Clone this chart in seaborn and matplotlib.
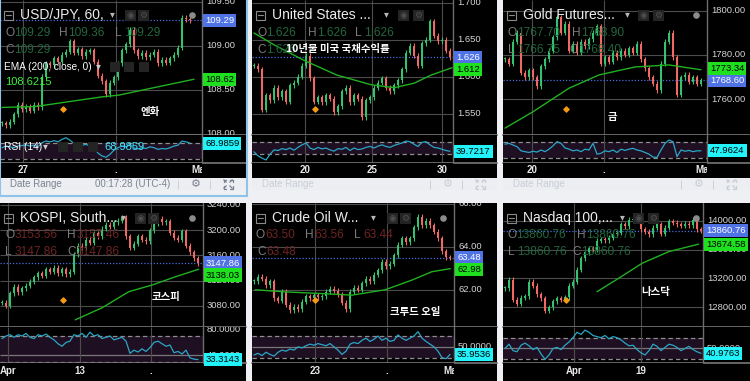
import numpy as np
import matplotlib
matplotlib.use("Agg")
import matplotlib.pyplot as plt
from matplotlib.patches import Rectangle
import seaborn as sns


# ---------------- values ----------------
titles = ["USD/JPY, 60,", "United States ...", "Gold Futures...",
          "KOSPI, South...", "Crude Oil W...", "Nasdaq 100,..."]
kr_labels = ["엔화", "10년물 미국 국채수익률", "금", "코스피", "크루드 오일", "나스닥"]

# USD/JPY, 60 min
usdjpy_close = [108.12, 108.10, 108.14, 108.22, 108.33, 108.28, 108.31, 108.26, 108.33, 108.30,
                108.65, 108.80, 108.78, 108.86, 108.82, 108.90, 108.93, 109.05, 108.92, 108.96,
                108.88, 108.93, 108.95, 108.82, 108.66, 108.60, 108.45, 108.58, 108.64, 108.80,
                108.95, 109.02, 109.18, 108.95, 108.88, 108.92, 108.87, 108.90, 108.93, 108.80,
                108.84, 108.81, 108.86, 108.90, 108.98, 109.32, 109.30, 109.29]
usdjpy_ema_x = [0, 8.25, 25, 29.25, 37.5, 48]
usdjpy_ema = [108.30, 108.31, 108.42, 108.44, 108.52, 108.62]
usdjpy_rsi = [58, 62, 60, 58, 62, 63, 65, 62, 64, 60, 70, 74, 72, 75, 72, 78, 82, 76, 68, 66,
              64, 66, 62, 58, 45, 38, 35, 42, 52, 58, 62, 60, 66, 57, 55, 58, 56, 60, 58, 54,
              56, 55, 58, 62, 64, 74, 72, 68.9859]
usdjpy_ticks = [108.0, 108.5, 109.0, 109.5]
usdjpy_date_pos = [5.25, 28.5, 49]
usdjpy_date_lbl = ["27", ".", "Ma"]
usdjpy_ohlc = [("O", "109.29"), ("H", "109.36"), ("L", "109.29"), ("C", "109.29")]

# US 10Y yield
ust10_close = [1.615, 1.610, 1.555, 1.575, 1.568, 1.585, 1.572, 1.580, 1.566, 1.588,
               1.592, 1.600, 1.615, 1.628, 1.598, 1.566, 1.572, 1.565, 1.575, 1.570,
               1.552, 1.560, 1.580, 1.585, 1.565, 1.575, 1.570, 1.545, 1.568, 1.572,
               1.585, 1.592, 1.598, 1.585, 1.580, 1.588, 1.595, 1.610, 1.632, 1.642,
               1.628, 1.615, 1.645, 1.650, 1.675, 1.655, 1.648, 1.650, 1.635, 1.626]
ust10_ema_x = [0, 5, 12.5, 20.75, 29.25, 35, 40, 44.25, 49.5]
ust10_ema = [1.659, 1.643, 1.622, 1.602, 1.589, 1.585, 1.591, 1.602, 1.612]
ust10_rsi = [38, 25, 18, 12, 30, 44, 42, 48, 45, 50, 43, 52, 60, 66, 50, 45, 52, 47, 50, 44,
             40, 48, 46, 52, 42, 50, 45, 47, 52, 55, 50, 56, 60, 55, 52, 58, 62, 66, 72, 70,
             62, 55, 68, 70, 60, 52, 50, 46, 42, 39.7217]
ust10_ticks = [1.55, 1.60, 1.65, 1.70]
ust10_date_pos = [12.75, 29.5, 47]
ust10_date_lbl = ["20", "25", "30"]
ust10_ohlc = [("O", "1.626"), ("H", "1.626"), ("L", "1.626"), ("C", "1.626")]

# Gold futures
gold_close = [1778, 1776, 1786, 1790, 1772, 1770, 1773, 1770, 1766, 1775,
              1778, 1782, 1788, 1797, 1790, 1794, 1782, 1785, 1781, 1786,
              1784, 1787, 1790, 1793, 1776, 1779, 1777, 1781, 1779, 1782,
              1780, 1783, 1781, 1785, 1778, 1774, 1770, 1767, 1764, 1776,
              1786, 1790, 1779, 1762, 1770, 1771, 1768, 1770, 1767, 1768.60]
gold_ema_x = [0, 7, 16, 23.5, 32.5, 41, 49]
gold_ema = [1747, 1754.4, 1765, 1771, 1774.6, 1775.5, 1773.34]
gold_rsi = [64, 66, 62, 58, 48, 46, 44, 47, 45, 50, 46, 52, 60, 70, 66, 55, 52, 48, 50, 46,
            52, 50, 66, 40, 42, 48, 46, 50, 44, 52, 49, 52, 54, 50, 48, 44, 40, 33, 32, 50,
            66, 74, 70, 34, 50, 47, 49, 46, 48, 47.9624]
gold_ticks = [1760, 1780, 1800]
gold_date_pos = [6.75, 24.75, 49.25]
gold_date_lbl = ["20", ".", "Ma"]
gold_ohlc = [("O", "1767.70"), ("H", "1768.90"), ("L", "1766.75"), ("C", "1768.40")]

# KOSPI
kospi_close = [3085, 3080, 3100, 3110, 3102, 3108, 3112, 3118, 3125, 3132,
               3128, 3138, 3134, 3140, 3132, 3138, 3130, 3134, 3162, 3175,
               3172, 3185, 3180, 3195, 3190, 3202, 3208, 3205, 3212, 3215,
               3220, 3190, 3172, 3178, 3190, 3185, 3182, 3200, 3210, 3218,
               3212, 3214, 3196, 3188, 3185, 3198, 3175, 3165, 3155, 3147.86]
kospi_ema_x = [18.3, 25, 31.7, 37.5, 43.3, 49.2]
kospi_ema = [3058, 3077, 3102.5, 3113, 3126, 3138.03]
kospi_rsi = [66, 70, 72, 68, 72, 70, 74, 68, 66, 72, 70, 73, 68, 64, 58, 54, 60, 62, 72, 70,
             74, 68, 76, 70, 72, 66, 68, 70, 64, 66, 68, 62, 43, 48, 45, 50, 46, 52, 60, 62,
             58, 54, 56, 44, 46, 42, 48, 36, 34, 33.3143]
kospi_ticks = [3080, 3120, 3160, 3200, 3240]
kospi_date_pos = [1.5, 19.5, 37.25]
kospi_date_lbl = ["Apr", "13", "."]
kospi_ohlc = [("O", "3153.56"), ("H", "3157.46"), ("L", "3147.86"), ("C", "3147.86")]

# Crude oil WTI
crude_close = [62.4, 62.6, 62.5, 62.2, 62.4, 61.6, 61.5, 61.9, 61.3, 61.05,
               61.2, 61.1, 61.45, 61.7, 61.6, 61.75, 61.65, 61.7, 61.9, 62.05,
               61.95, 61.8, 61.4, 61.1, 61.9, 62.1, 62.0, 62.3, 62.5, 62.4,
               62.7, 62.9, 63.3, 63.1, 63.2, 63.6, 64.1, 64.4, 64.2, 64.4,
               64.9, 65.4, 65.0, 65.2, 65.0, 64.7, 64.4, 63.8, 63.5, 63.48]
crude_ema_x = [0.3, 7.8, 16.2, 24.5, 32.8, 39.5, 44.5, 49.1]
crude_ema = [62.0, 61.9, 61.83, 61.75, 62.0, 62.45, 62.84, 62.98]
crude_rsi = [35, 38, 34, 40, 36, 33, 40, 44, 42, 46, 44, 50, 48, 52, 55, 53, 56, 54, 52, 56,
             50, 44, 36, 42, 55, 58, 56, 62, 66, 60, 64, 70, 62, 66, 60, 62, 72, 66, 62, 66,
             70, 78, 66, 60, 55, 50, 42, 30, 28, 35.9536]
crude_ticks = [62, 64, 66]
crude_date_pos = [15.25, 33.25, 49]
crude_date_lbl = ["23", ".", "Ma"]
crude_ohlc = [("O", "63.50"), ("H", "63.56"), ("L", "63.44"), ("C", "63.48")]

# Nasdaq 100
ndx_close = [13060, 13180, 12900, 12850, 12930, 12950, 13150, 13100, 12980, 12920,
             12750, 12800, 12880, 12920, 12900, 12940, 13100, 13150, 13320, 13480,
             13560, 13620, 13600, 13720, 13740, 13730, 13760, 13810, 13830, 13950,
             13920, 14010, 14030, 14000, 13880, 13850, 13810, 13900, 13950, 13820,
             13900, 13990, 13970, 13950, 13930, 13960, 13940, 14010, 13880, 13860.76]
ndx_ema_x = [23, 28.4, 34.25, 40.9, 48.4]
ndx_ema = [13014, 13200, 13408, 13570, 13674.58]
ndx_rsi = [50, 58, 46, 44, 56, 60, 55, 48, 52, 40, 30, 38, 50, 52, 48, 56, 62, 70, 80, 76,
           84, 80, 74, 72, 70, 74, 68, 72, 70, 66, 60, 55, 56, 48, 42, 38, 46, 58, 54, 46,
           52, 58, 56, 52, 46, 50, 54, 48, 44, 40.9763]
ndx_ticks = [12800, 13200, 13600, 14000]
ndx_date_pos = [17.25, 34]
ndx_date_lbl = ["Apr", "19"]
ndx_ohlc = [("O", "13860.76"), ("H", "13860.76"), ("L", "13860.76"), ("C", "13860.76")]


# ---------------- look ----------------
FW, FH = 750, 381
UP = "#35c270"
DOWN = "#ee6a62"
EMA_C = "#20b020"
RSI_C = "#2ba6c6"
GRID = "#4c4c4c"
AXIS_C = "#6e6e6e"
LBL_C = "#d4d4d4"
BAND = "#1f0f22"
VAL_UP = "#22663d"
VAL_DN = "#6e2323"

ROWS = {
    "top": dict(main=(0, 135), rsi=(135, 163), date=(163, 178), bar=(178, 190),
                r1=33, r2=50, title=15, orange=109),
    "bottom": dict(main=(203, 327), rsi=(327, 363), date=(363, 381), bar=None,
                   r1=235, r2=252, title=218, orange=300),
}

layout = [
    dict(row="top", box=(0, 202, 246), ylim=(107.987, 109.52), rsi_lim=(21.1, 88.6),
         drop=112, icons=(125, 138), ohlc_pos=[(5, 1), (59, 1), (115, 1), (5, 2)],
         kr_xy=(150, 112), dot=True),
    dict(row="top", box=(252, 453, 497), ylim=(1.521, 1.7036), rsi_lim=(2.4, 91.3),
         drop=134, icons=(146, 161), ohlc_pos=[(5, 1), (56, 1), (103, 1), (5, 2)],
         kr_xy=(338, 49), dot=False),
    dict(row="top", box=(503, 707, 750), ylim=(1743.9, 1804.8), rsi_lim=(18.7, 86.1),
         drop=124, icons=(135, 150), ohlc_pos=[(5, 1), (69, 1), (5, 2), (66, 2)],
         kr_xy=(612, 117), dot=True),
    dict(row="bottom", box=(0, 203, 246), ylim=(3046.7, 3242.7), rsi_lim=(28.0, 84.0),
         drop=123, icons=(135, 148), ohlc_pos=[(5, 1), (67, 1), (5, 2), (67, 2)],
         kr_xy=(166, 297), dot=True),
    dict(row="bottom", box=(252, 454, 497), ylim=(60.27, 66.03), rsi_lim=(20.2, 86.6),
         drop=121, icons=(135, 148), ohlc_pos=[(4, 1), (53, 1), (102, 1), (5, 2)],
         kr_xy=(415, 312), dot=True),
    dict(row="bottom", box=(503, 703, 750), ylim=(12524, 14246), rsi_lim=(23.1, 89.8),
         drop=119, icons=(130, 145), ohlc_pos=[(4, 1), (74, 1), (5, 2), (69, 2)],
         kr_xy=(656, 292), dot=True),
]

panels = [
    dict(close=usdjpy_close, ema_x=usdjpy_ema_x, ema=usdjpy_ema, rsi=usdjpy_rsi,
         ticks=usdjpy_ticks, fmt="{:.2f}", dates=(usdjpy_date_pos, usdjpy_date_lbl),
         ohlc=usdjpy_ohlc, val_c=VAL_UP, rsi_grid=[], rsi_lbl=[]),
    dict(close=ust10_close, ema_x=ust10_ema_x, ema=ust10_ema, rsi=ust10_rsi,
         ticks=ust10_ticks, fmt="{:.3f}", dates=(ust10_date_pos, ust10_date_lbl),
         ohlc=ust10_ohlc, val_c=VAL_UP, rsi_grid=[], rsi_lbl=[]),
    dict(close=gold_close, ema_x=gold_ema_x, ema=gold_ema, rsi=gold_rsi,
         ticks=gold_ticks, fmt="{:.2f}", dates=(gold_date_pos, gold_date_lbl),
         ohlc=gold_ohlc, val_c=VAL_UP, rsi_grid=[], rsi_lbl=[]),
    dict(close=kospi_close, ema_x=kospi_ema_x, ema=kospi_ema, rsi=kospi_rsi,
         ticks=kospi_ticks, fmt="{:.2f}", dates=(kospi_date_pos, kospi_date_lbl),
         ohlc=kospi_ohlc, val_c=VAL_DN, rsi_grid=[40], rsi_lbl=[80, 40]),
    dict(close=crude_close, ema_x=crude_ema_x, ema=crude_ema, rsi=crude_rsi,
         ticks=crude_ticks, fmt="{:.2f}", dates=(crude_date_pos, crude_date_lbl),
         ohlc=crude_ohlc, val_c=VAL_DN, rsi_grid=[50], rsi_lbl=[50]),
    dict(close=ndx_close, ema_x=ndx_ema_x, ema=ndx_ema, rsi=ndx_rsi,
         ticks=ndx_ticks, fmt="{:.2f}", dates=(ndx_date_pos, ndx_date_lbl),
         ohlc=ndx_ohlc, val_c=VAL_UP, rsi_grid=[50], rsi_lbl=[50]),
]


def px_axes(fig, x0, y0, x1, y1, **kw):
    return fig.add_axes([x0 / FW, 1 - y1 / FH, (x1 - x0) / FW, (y1 - y0) / FH], **kw)


def blank(ax, fc="black"):
    ax.set_facecolor(fc)
    ax.set_xticks([])
    ax.set_yticks([])
    ax.set(xlabel=None, ylabel=None)
    ax.grid(False)
    for s in ax.spines.values():
        s.set_visible(False)


def to_px(v, lim, span):
    return span[0] + (lim[1] - v) / (lim[1] - lim[0]) * (span[1] - span[0])


def value_box(ov, x, y, s, fc, tc):
    ov.text(x, y, s, ha="left", va="center", fontsize=6.8, color=tc, zorder=20,
            bbox=dict(boxstyle="square,pad=0.22", fc=fc, ec="none"))


def expand_icon(ov, cx, cy, c):
    # the "full screen" arrows of the toolbar, drawn as four short diagonals
    for sx in (-1, 1):
        for sy in (-1, 1):
            ov.plot([cx + sx * 1.5, cx + sx * 4.5], [cy + sy * 1.5, cy + sy * 4.5],
                    color=c, lw=0.9, solid_capstyle="butt")
            ov.plot([cx + sx * 4.5, cx + sx * 2.2], [cy + sy * 4.5, cy + sy * 4.5],
                    color=c, lw=0.9)
            ov.plot([cx + sx * 4.5, cx + sx * 4.5], [cy + sy * 4.5, cy + sy * 2.2],
                    color=c, lw=0.9)


def draw_panel(fig, ov, p, lay):
    left, axis_px, right = lay["box"]
    r = ROWS[lay["row"]]
    i0 = left + 2
    x_lo, x_hi = (left - i0) / 4, (right - i0) / 4
    x_ax = (axis_px - i0) / 4
    px = 0.25
    close = np.asarray(p["close"], float)
    xs = np.arange(len(close))
    date_pos, date_lbl = p["dates"]
    grid_x = [d for d, l in zip(date_pos, date_lbl) if not l.startswith("M")]

    # black backdrop for the whole panel
    bg = px_axes(fig, left, r["main"][0], right, r["date"][1])
    blank(bg)

    # ---- price pane ----
    ylim = lay["ylim"]
    ax = px_axes(fig, left, r["main"][0], right, r["main"][1])
    dy = (ylim[1] - ylim[0]) / (r["main"][1] - r["main"][0])
    ax.hlines(p["ticks"], x_lo, x_ax, colors=GRID, lw=0.8, zorder=1)
    ax.vlines(grid_x, ylim[0], ylim[1], colors=GRID, lw=0.8, zorder=1)
    ax.hlines(close[-1], x_lo, x_ax, colors="#4a6de0", lw=0.9,
              linestyles=(0, (1, 1.5)), zorder=2)

    opn = np.r_[close[0], close[:-1]]
    lo = np.minimum(opn, close)
    hi = np.maximum(opn, close)
    cols = np.where(close >= opn, UP, DOWN)
    ax.vlines(xs, lo - 2.5 * dy, hi + 2.5 * dy, colors=cols, lw=0.8, zorder=3)
    ax.bar(xs, np.maximum(hi - lo, dy), bottom=lo, width=0.55, color=cols,
           linewidth=0, zorder=4)
    sns.lineplot(x=p["ema_x"], y=p["ema"], ax=ax, color=EMA_C, lw=1.0, zorder=5)
    ax.axvline(x_ax, color=AXIS_C, lw=1.0, zorder=6)
    for v in p["ticks"]:
        ax.text(x_ax + 4 * px, v, p["fmt"].format(v), color=LBL_C, fontsize=6.8,
                va="center", ha="left", clip_on=True, zorder=7)
    ax.set_xlim(x_lo, x_hi)
    ax.set_ylim(*ylim)
    blank(ax)
    ax.spines["bottom"].set_visible(True)
    ax.spines["bottom"].set_color("#777777")
    ax.spines["bottom"].set_linewidth(1.2)

    # ---- RSI pane ----
    rl = lay["rsi_lim"]
    ar = px_axes(fig, left, r["rsi"][0], right, r["rsi"][1])
    ar.fill_between([x_lo, x_ax], 30, 70, color=BAND, lw=0, zorder=0)
    ar.hlines([30, 70], x_lo, x_ax, colors="#8e8e8e", lw=0.9,
              linestyles=(0, (3.5, 2.5)), zorder=1)
    if p["rsi_grid"]:
        ar.hlines(p["rsi_grid"], x_lo, x_ax, colors="#777777", lw=0.9, zorder=1)
    ar.vlines(grid_x, rl[0], rl[1], colors=GRID, lw=0.8, zorder=1)
    sns.lineplot(x=xs, y=p["rsi"], ax=ar, color=RSI_C, lw=0.9, zorder=5)
    ar.axvline(x_ax, color=AXIS_C, lw=1.0, zorder=6)
    for v in p["rsi_lbl"]:
        ar.text(x_ax + 4 * px, v, "{:.4f}".format(v), color=LBL_C, fontsize=6.8,
                va="center", ha="left", clip_on=True)
    ar.set_xlim(x_lo, x_hi)
    ar.set_ylim(*rl)
    blank(ar)
    ar.spines["bottom"].set_visible(True)
    ar.spines["bottom"].set_color("#777777")
    ar.spines["bottom"].set_linewidth(1.2)

    # ---- date labels ----
    da = px_axes(fig, left, r["date"][0], axis_px, r["date"][1])
    blank(da)
    da.set_xlim(x_lo, x_ax)
    da.set_ylim(0, 1)
    for d, l in zip(date_pos, date_lbl):
        da.text(d, 0.55, l, ha="center", va="center", color="#e8e8e8", fontsize=7,
                fontweight="bold", clip_on=True)

    # ---- value boxes on the price scale ----
    yc = to_px(close[-1], ylim, r["main"])
    ye = to_px(p["ema"][-1], ylim, r["main"])
    if abs(yc - ye) < 12:
        ye = yc + 12 * (1 if ye >= yc else -1)
    value_box(ov, axis_px + 3, yc, p["fmt"].format(close[-1]), "#4f72e4", "white")
    value_box(ov, axis_px + 3, ye, p["fmt"].format(p["ema"][-1]), "#1fe01f", "black")
    yr = to_px(p["rsi"][-1], rl, r["rsi"])
    value_box(ov, axis_px + 3, yr, "{:.4f}".format(p["rsi"][-1]), "#22f2fa", "black")

    # ---- legend header ----
    ty = r["title"]
    ov.add_patch(Rectangle((left + 4, ty - 4.5), 9, 9, fill=False, ec="#8a8a8a", lw=0.8))
    ov.plot([left + 6, left + 11], [ty, ty], color="#8a8a8a", lw=0.8)
    ov.text(left + 20, ty, p["title"], color="#ececec", fontsize=10,
            va="center", ha="left")
    ov.text(left + lay["drop"], ty - 1, "▾", family="DejaVu Sans", color="#b8b8b8",
            fontsize=7, va="center", ha="center")
    for k, ix in enumerate(lay["icons"]):
        ov.add_patch(Rectangle((left + ix, ty - 5), 11, 11, fc="#242424", ec="none"))
        ov.text(left + ix + 5.5, ty + 0.5, "◉" if k == 0 else "⚙", family="DejaVu Sans",
                color="#4e4e4e", fontsize=6.5, ha="center", va="center")
    if lay["dot"]:
        ov.scatter([right - 54], [ty], s=14, color="#8c8c8c", zorder=15)
    for (letter, val), (rx, row) in zip(p["ohlc"], lay["ohlc_pos"]):
        yy = r["r1"] if row == 1 else r["r2"]
        ov.text(left + rx, yy, letter, color="#7c7c7c", fontsize=8.6, va="center")
        ov.text(left + rx + 9.5, yy, val, color=p["val_c"], fontsize=8.6, va="center")

    ov.scatter([left + 63], [r["orange"]], s=7, marker="D", color="#f59a13", zorder=15)
    kx, ky = lay["kr_xy"]
    ov.text(kx, ky, p["kr"], family="Noto Sans CJK KR", fontsize=7.5, fontweight="bold",
            color="white", ha="center", va="center", zorder=16)

    # ---- date range strip (top row) ----
    if r["bar"]:
        b0, b1 = r["bar"]
        ba = px_axes(fig, left, b0, right, b1)
        blank(ba, "#eceef2")
        bm = (b0 + b1) / 2
        active = lay["box"][0] == 0
        c = "#7b8290" if active else "#c9ced6"
        ov.text(left + 10, bm, "Date Range", color=c, fontsize=7, va="center")
        ov.vlines([left + 178, left + 210], b0 + 1.5, b1 - 1, colors="#cdd1d8", lw=0.8)
        ov.text(left + 196, bm, "⚙", family="DejaVu Sans", color=c, fontsize=8,
                ha="center", va="center")
        expand_icon(ov, left + 228, bm, c)
        if active:
            ov.text(left + 95, bm, "00:17:28 (UTC-4)", color=c, fontsize=7, va="center")


def main():
    sns.set_theme(style="dark")
    plt.rcParams["font.family"] = ["Liberation Sans", "DejaVu Sans"]
    plt.rcParams["axes.unicode_minus"] = False

    fig = plt.figure(figsize=(FW / 100, FH / 100), dpi=100)
    fig.patch.set_facecolor("#eef0f4")

    ov = fig.add_axes([0, 0, 1, 1], zorder=10)
    ov.set_xlim(0, FW)
    ov.set_ylim(FH, 0)
    ov.set_axis_off()
    ov.patch.set_alpha(0)

    for k, (p, lay) in enumerate(zip(panels, layout)):
        p["title"] = titles[k]
        p["kr"] = kr_labels[k]
        draw_panel(fig, ov, p, lay)

    # extra legend lines of the active (top-left) panel
    ov.text(4, 67, "EMA (200, close, 0)", color="white", fontsize=7.2, va="center")
    ov.text(98, 66, "▾", family="DejaVu Sans", color="#cccccc", fontsize=7,
            ha="center", va="center")
    for ix in (110, 124, 139):
        ov.add_patch(Rectangle((ix, 62), 10, 10, fc="#242424", ec="none"))
    ov.text(5, 82, "108.6215", color="#3ef03e", fontsize=8, va="center")
    ov.text(4, 147, "RSI (14)", color="white", fontsize=7.4, va="center")
    ov.text(45, 146, "▾", family="DejaVu Sans", color="#cccccc", fontsize=7,
            ha="center", va="center")
    for ix in (58, 73, 88):
        ov.add_patch(Rectangle((ix, 142), 10, 10, fc="#242424", ec="none"))
    ov.text(104, 147, "68.9859", color="#3fe4ff", fontsize=8, va="center")

    # selection frame around the active panel
    ov.add_patch(Rectangle((0, -2), 246.5, 198, fill=False, ec="#8fc3ea", lw=1.5))

    fig.savefig("out.png", dpi=100, facecolor=fig.get_facecolor())


if __name__ == "__main__":
    main()
